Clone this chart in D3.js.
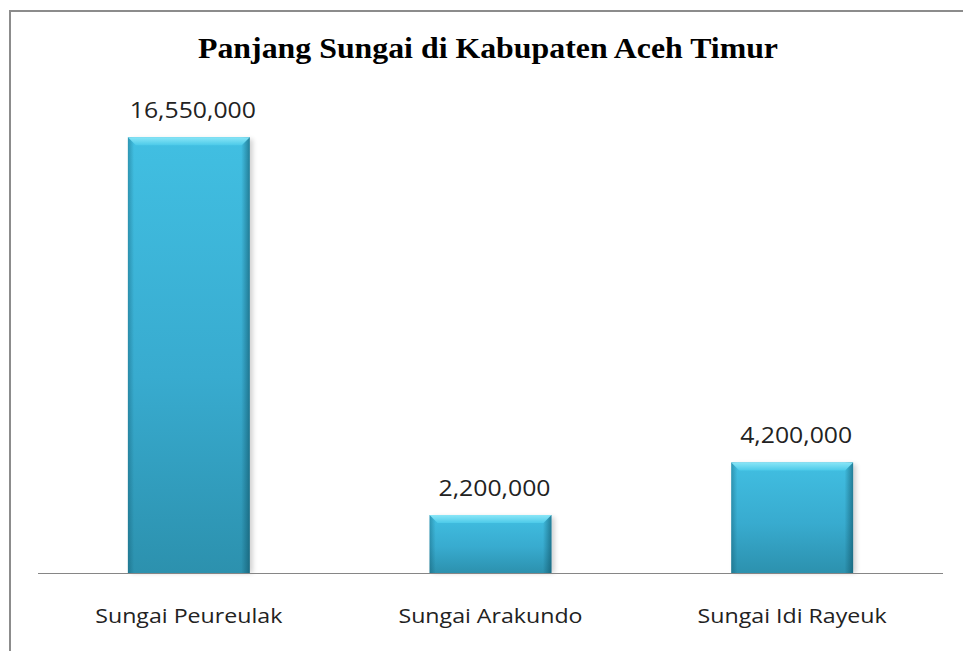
<!DOCTYPE html>
<html><head><meta charset="utf-8">
<script src="https://cdn.jsdelivr.net/npm/d3@7"></script>
<style>
html,body{margin:0;padding:0;background:#fff;}
svg{display:block;}
</style></head>
<body>
<script>
const title = "Panjang Sungai di Kabupaten Aceh Timur";
const categories = ["Sungai Peureulak", "Sungai Arakundo", "Sungai Idi Rayeuk"];
const values = [16550000, 2200000, 4200000];

const W = 963, H = 651;
const svg = d3.select("body").append("svg").attr("width", W).attr("height", H);
const defs = svg.append("defs");

const body = defs.append("linearGradient").attr("id","gBody").attr("x1",0).attr("y1",0).attr("x2",0).attr("y2",1);
body.append("stop").attr("offset","0%").attr("stop-color","#41bfe2");
body.append("stop").attr("offset","55%").attr("stop-color","#38abcf");
body.append("stop").attr("offset","100%").attr("stop-color","#2c91ae");

const side = defs.append("linearGradient").attr("id","gSide").attr("x1",0).attr("y1",0).attr("x2",1).attr("y2",0);
side.append("stop").attr("offset","0%").attr("stop-color","#0b4a5c").attr("stop-opacity",0.35);
side.append("stop").attr("offset","5%").attr("stop-color","#0b4a5c").attr("stop-opacity",0.0);
side.append("stop").attr("offset","93%").attr("stop-color","#0b4a5c").attr("stop-opacity",0.0);
side.append("stop").attr("offset","100%").attr("stop-color","#0b4a5c").attr("stop-opacity",0.55);

const bev = defs.append("linearGradient").attr("id","gBevel").attr("x1",0).attr("y1",0).attr("x2",0).attr("y2",1);
bev.append("stop").attr("offset","0%").attr("stop-color","#8ae6f7");
bev.append("stop").attr("offset","100%").attr("stop-color","#4ccae9");

const blur = defs.append("filter").attr("id","shadow").attr("x","-20%").attr("y","-20%").attr("width","140%").attr("height","140%");
blur.append("feGaussianBlur").attr("stdDeviation",2.5);

// border
svg.append("rect").attr("x",10).attr("y",11).attr("width",W).attr("height",H)
  .attr("fill","none").attr("stroke","#8c8c8c").attr("stroke-width",2);

const x = d3.scaleBand().domain(categories).range([38, 943]).paddingInner(0.596).paddingOuter(0.298);
const y = d3.scaleLinear().domain([0, 18000000]).range([573, 99]);

svg.append("text").attr("x",488).attr("y",58).attr("text-anchor","middle")
  .attr("font-family","'Liberation Serif','Times New Roman',serif").attr("font-weight","bold")
  .attr("font-size",29).attr("fill","#000").attr("textLength",580).attr("lengthAdjust","spacingAndGlyphs")
  .text(title);

const g = svg.append("g");
const data = categories.map((c,i)=>({c, v: values[i]}));

// shadows
g.selectAll("rect.sh").data(data).join("rect").attr("class","sh")
  .attr("x", d=>x(d.c)+3).attr("y", d=>y(d.v)+2)
  .attr("width", x.bandwidth()).attr("height", d=>y(0)-y(d.v)-2)
  .attr("fill","#000").attr("opacity",0.18).attr("filter","url(#shadow)");

g.selectAll("rect.bar").data(data).join("rect").attr("class","bar")
  .attr("x", d=>x(d.c)).attr("y", d=>y(d.v))
  .attr("width", x.bandwidth()).attr("height", d=>y(0)-y(d.v))
  .attr("fill","url(#gBody)");
g.selectAll("rect.side").data(data).join("rect").attr("class","side")
  .attr("x", d=>x(d.c)).attr("y", d=>y(d.v))
  .attr("width", x.bandwidth()).attr("height", d=>y(0)-y(d.v))
  .attr("fill","url(#gSide)");
g.selectAll("path.bevel").data(data).join("path").attr("class","bevel")
  .attr("d", d=>{
    const x0 = x(d.c), x1 = x0 + x.bandwidth(), t = y(d.v), b = 8;
    return `M${x0},${t}L${x1},${t}L${x1-b},${t+b}L${x0+b},${t+b}Z`;
  }).attr("fill","url(#gBevel)");

// axis line
svg.append("line").attr("x1",38).attr("x2",943).attr("y1",y(0)+0.5).attr("y2",y(0)+0.5)
  .attr("stroke","#868686").attr("stroke-width",1.2);

function stretch(sel, f){
  sel.each(function(){
    const w = this.getComputedTextLength();
    d3.select(this).attr("textLength", w*f).attr("lengthAdjust","spacingAndGlyphs");
  });
}

const fmt = d3.format(",");
g.selectAll("text.val").data(data).join("text").attr("class","val")
  .attr("x", d=>x(d.c)+x.bandwidth()/2+4).attr("y", d=>y(d.v)-19)
  .attr("text-anchor","middle").attr("font-family","'Open Sans',sans-serif")
  .attr("font-size",21).attr("fill","#222").text(d=>fmt(d.v))
  .call(stretch, 1.18);

g.selectAll("text.cat").data(data).join("text").attr("class","cat")
  .attr("x", d=>x(d.c)+x.bandwidth()/2).attr("y", 623)
  .attr("text-anchor","middle").attr("font-family","'Open Sans',sans-serif")
  .attr("font-size",20.5).attr("fill","#222").text(d=>d.c)
  .call(stretch, 1.13);
</script>
</body></html>
